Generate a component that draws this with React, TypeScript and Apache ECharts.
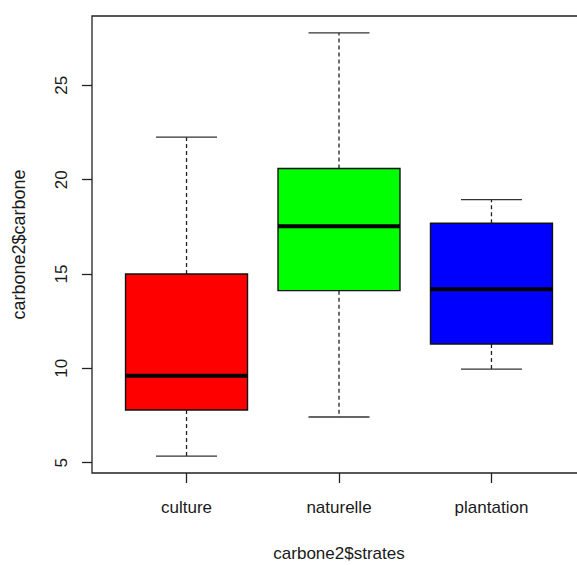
import React, { useEffect, useRef } from "react";
import * as echarts from "echarts";

const categories = ["culture", "naturelle", "plantation"];
const mins = [5.35, 7.42, 9.96];
const q1s = [7.79, 14.12, 11.29];
const medians = [9.61, 17.53, 14.19];
const q3s = [15.0, 20.59, 17.69];
const maxs = [22.26, 27.78, 18.94];
const boxColors = ["#FF0000", "#00FF00", "#0000FF"];
const yTicks = [5, 10, 15, 20, 25];
const xTicks = [1, 2, 3];

const FONT = "'Liberation Sans', Arial, sans-serif";

export default function App() {
  const ref = useRef<HTMLDivElement>(null);
  useEffect(() => {
    if (!ref.current) return;
    const chart = echarts.init(ref.current, null, { renderer: "svg" });
    const data = categories.map((c, i) => [i + 1, mins[i], q1s[i], medians[i], q3s[i], maxs[i], i]);
    const lo = Math.min(...mins);
    const hi = Math.max(...maxs);
    const pad = (hi - lo) * 0.04;
    chart.setOption({
      animation: false,
      backgroundColor: "#ffffff",
      grid: {
        left: 92,
        top: 16,
        width: 494,
        height: 457,
        outerBoundsMode: "none",
        containLabel: false,
        show: true,
        borderColor: "#222",
        borderWidth: 1.3,
        backgroundColor: "transparent",
      },
      xAxis: {
        type: "value",
        min: 0.38,
        max: 3.62,
        name: "carbone2$strates",
        nameLocation: "middle",
        nameGap: 72,
        nameTextStyle: { fontFamily: FONT, fontSize: 17, color: "#1a1a1a" },
        axisLine: { show: false },
        splitLine: { show: false },
        axisTick: {
          show: true,
          customValues: xTicks,
          length: 10,
          inside: false,
          lineStyle: { color: "#222", width: 1.3 },
        },
        axisLabel: {
          customValues: xTicks,
          formatter: (v: number) => categories[Math.round(v) - 1] ?? "",
          fontFamily: FONT,
          fontSize: 17,
          color: "#1a1a1a",
          margin: 26,
        },
      },
      yAxis: {
        type: "value",
        min: lo - pad,
        max: hi + pad,
        name: "carbone2$carbone",
        nameLocation: "middle",
        nameGap: 64,
        nameRotate: 90,
        nameTextStyle: { fontFamily: FONT, fontSize: 18, color: "#1a1a1a" },
        axisLine: { show: false },
        splitLine: { show: false },
        axisTick: {
          show: true,
          customValues: yTicks,
          length: 10,
          inside: false,
          lineStyle: { color: "#222", width: 1.3 },
        },
        axisLabel: {
          customValues: yTicks,
          rotate: 90,
          fontFamily: FONT,
          fontSize: 17,
          color: "#1a1a1a",
          margin: 22,
        },
      },
      series: [
        {
          type: "custom",
          data,
          clip: false,
          encode: { x: 0, y: [1, 2, 3, 4, 5] },
          renderItem: (params: any, api: any) => {
            const x = api.value(0);
            const pMin = api.coord([x, api.value(1)]);
            const pQ1 = api.coord([x, api.value(2)]);
            const pMed = api.coord([x, api.value(3)]);
            const pQ3 = api.coord([x, api.value(4)]);
            const pMax = api.coord([x, api.value(5)]);
            const idx = api.value(6);
            const bw = api.size([0.8, 0])[0];
            const cw = bw / 2;
            const cx = pMed[0];
            const dash = { stroke: "#222", lineWidth: 1.3, lineDash: [4, 3] };
            const solid = { stroke: "#333", lineWidth: 1.3 };
            return {
              type: "group",
              children: [
                { type: "line", shape: { x1: cx, y1: pQ3[1], x2: cx, y2: pMax[1] }, style: dash },
                { type: "line", shape: { x1: cx, y1: pQ1[1], x2: cx, y2: pMin[1] }, style: dash },
                { type: "line", shape: { x1: cx - cw / 2, y1: pMax[1], x2: cx + cw / 2, y2: pMax[1] }, style: solid },
                { type: "line", shape: { x1: cx - cw / 2, y1: pMin[1], x2: cx + cw / 2, y2: pMin[1] }, style: solid },
                {
                  type: "rect",
                  shape: { x: cx - bw / 2, y: pQ3[1], width: bw, height: pQ1[1] - pQ3[1] },
                  style: { fill: boxColors[idx], stroke: "#111", lineWidth: 1.4 },
                },
                {
                  type: "line",
                  shape: { x1: cx - bw / 2, y1: pMed[1], x2: cx + bw / 2, y2: pMed[1] },
                  style: { stroke: "#000", lineWidth: 4 },
                },
              ],
            };
          },
        },
      ],
    });
    return () => chart.dispose();
  }, []);
  return (
    <div
      ref={ref}
      style={{ position: "fixed", left: 0, top: 0, width: 577, height: 565, background: "#fff" }}
    />
  );
}
